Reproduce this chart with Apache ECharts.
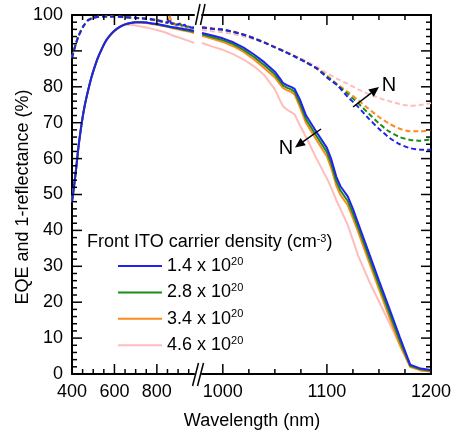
<!DOCTYPE html>
<html><head><meta charset="utf-8">
<script src="https://cdn.jsdelivr.net/npm/echarts@6/dist/echarts.min.js"></script>
<style>html,body{margin:0;padding:0;background:#fff}#c{width:456px;height:437px}</style>
</head><body><div id="c"></div>
<script>
// ---------- data ----------
const densities = ['1.4', '2.8', '3.4', '4.6'];
const colors = ['#2222ee', '#1a8c1a', '#ff8a1e', '#ffbcbc'];

// EQE (solid), short-wavelength segment
const eqeWlLeft = [400,410,420,430,440,450,460,470,480,490,500,520,540,560,580,600,625,650,675,700,725,750,775,800,825,850,875,900,925,950,975];
const eqeLeft14 = [48,52.5,57.5,63,67.5,71.5,74.8,77.5,80,82.3,84.3,87.8,90.5,92.8,94.4,95.6,96.7,97.4,97.8,98.0,98.0,97.9,97.7,97.5,97.2,96.9,96.6,96.4,96.1,95.9,95.6];
const eqeLeft28 = [48,52.5,57.5,63,67.5,71.5,74.8,77.5,80,82.3,84.3,87.8,90.5,92.8,94.4,95.6,96.7,97.4,97.8,98.0,98.0,97.9,97.6,97.4,97.1,96.8,96.5,96.2,95.9,95.6,95.3];
const eqeLeft34 = [48,52.5,57.5,63,67.5,71.5,74.8,77.5,80,82.3,84.3,87.8,90.5,92.8,94.4,95.6,96.7,97.4,97.8,97.9,97.9,97.8,97.5,97.3,97.0,96.7,96.3,96.0,95.7,95.4,95.0];
const eqeLeft46 = [47.9,52.4,57.4,62.9,67.4,71.4,74.7,77.4,79.9,82.2,84.2,87.7,90.4,92.7,94.3,95.5,96.6,97.2,97.3,97.1,96.8,96.5,96.2,95.8,95.4,94.9,94.3,93.8,93.3,92.8,92.2];

// EQE (solid), long-wavelength segment
const eqeWlRight = [980,990,1000,1010,1020,1030,1040,1050,1055,1058,1062,1066,1069,1074,1080,1090,1100,1104,1109,1113,1120,1125,1130,1140,1150,1160,1170,1180,1190,1200];
const eqeRight14 = [95.0,94.3,93.5,92.4,90.9,89.0,86.8,84.2,82.3,81.0,80.4,79.9,79.4,76.5,72.0,67.4,63.0,60.0,55.0,52.3,49.5,46.0,42.0,34.0,26.0,18.2,10.3,2.6,1.5,1.1];
const eqeRight28 = [94.6,93.8,93.0,91.9,90.3,88.3,86.0,83.4,81.5,80.3,79.7,79.2,78.6,75.4,70.9,66.3,61.8,58.7,53.7,51.1,48.2,44.7,40.8,32.8,24.8,17.0,9.2,2.3,1.3,0.9];
const eqeRight34 = [94.2,93.4,92.5,91.3,89.7,87.6,85.2,82.6,80.7,79.6,79.0,78.5,77.8,74.4,69.9,65.2,60.6,57.5,52.5,49.9,47.0,43.4,39.6,31.6,23.6,15.8,8.1,2.0,1.0,0.7];
const eqeRight46 = [92.2,91.2,90.3,89.1,87.6,85.7,83.2,79.3,76.2,74.5,73.6,72.9,72.3,69.3,66.0,60.0,54.5,52.0,48.4,46.0,41.5,37.3,33.0,26.2,20.2,14.2,8.2,2.0,1.0,0.7];

// 1-reflectance (dashed), short-wavelength segment
const reflWlLeft = [400,410,420,430,440,450,460,475,500,525,550,600,650,700,750,800,825,840,850,855,860,865,870,880,890,900,910,920,930,940,950,960,975];
const reflLeft14 = [88.0,90.3,92.3,94.0,95.3,96.5,97.4,98.5,99.2,99.5,99.6,99.6,99.4,99.2,99.0,98.6,98.2,98.0,97.9,98.5,98.9,98.0,97.6,97.8,97.3,97.4,97.6,97.0,97.3,96.8,96.9,96.5,96.6];
const reflLeft28 = [88.2,90.4,92.4,94.1,95.4,96.6,97.5,98.6,99.3,99.5,99.6,99.6,99.4,99.2,98.9,98.5,98.1,97.9,97.8,98.2,98.6,97.9,97.5,97.6,97.2,97.2,97.4,96.9,97.1,96.7,96.7,96.4,96.4];
const reflLeft34 = [88.1,90.3,92.3,94.0,95.3,96.5,97.4,98.5,99.2,99.5,99.6,99.6,99.4,99.2,99.0,98.6,98.3,98.1,98.2,99.2,99.8,98.8,97.8,97.7,97.4,97.3,97.5,97.1,97.2,96.8,96.8,96.4,96.5];
const reflLeft46 = [88.0,90.2,92.2,93.9,95.2,96.4,97.3,98.4,99.1,99.4,99.5,99.5,99.3,99.1,98.8,98.4,98.0,97.8,97.7,97.8,97.9,97.6,97.4,97.3,97.1,96.9,96.8,96.6,96.5,96.3,96.2,96.0,95.9];

// 1-reflectance (dashed), long-wavelength segment
const reflWlRight = [980,990,1000,1010,1020,1030,1040,1050,1060,1070,1080,1090,1100,1110,1120,1130,1140,1150,1160,1170,1180,1190,1200];
const reflRight14 = [96.5,96.2,95.9,95.3,94.5,93.5,92.3,91.0,89.7,88.3,86.8,85.2,82.6,80.4,77.2,74.4,71.2,68.3,65.8,64.0,62.9,62.5,62.5];
const reflRight28 = [96.5,96.2,95.9,95.3,94.5,93.5,92.3,91.0,89.7,88.3,86.8,85.1,82.9,80.5,78.0,75.4,72.6,69.8,67.5,66.0,65.2,65.0,65.4];
const reflRight34 = [96.6,96.3,96.0,95.4,94.6,93.6,92.4,91.1,89.8,88.4,86.9,85.2,83.1,80.7,78.6,76.3,73.9,71.6,69.7,68.3,67.6,67.6,68.0];
const reflRight46 = [95.8,95.5,95.2,94.7,94.0,93.2,92.3,91.1,89.8,88.5,87.2,85.6,83.8,82.2,80.8,79.3,78.0,76.9,76.0,75.2,74.7,74.9,75.5];

// axis ranges / tick spacing
const leftRange = [400, 975], rightRange = [980, 1200];
const leftMajor = {min: 400, max: 800, step: 200};
const leftMinor = {min: 400, max: 950, step: 50};
const rightMajor = {min: 1000, max: 1200, step: 100};
const rightMinor = {min: 1000, max: 1200, step: 25};
const yMin = 0, yMax = 100, yStep = 10, yMinorStep = 2;

// ---------- chart ----------
const FONT = 'Liberation Sans, Arial, sans-serif';
const black = '#000';
const chart = echarts.init(document.getElementById('c'), null, {renderer: 'canvas'});

const TOP = 15, H = 359;
const segL = {px0: 72, width: 122, range: leftRange};
const segR = {px0: 202, width: 229, range: rightRange};

const eqeLeft = [eqeLeft14, eqeLeft28, eqeLeft34, eqeLeft46];
const eqeRight = [eqeRight14, eqeRight28, eqeRight34, eqeRight46];
const reflLeft = [reflLeft14, reflLeft28, reflLeft34, reflLeft46];
const reflRight = [reflRight14, reflRight28, reflRight34, reflRight46];

const grids = [], xAxes = [], yAxes = [];
function dataGrid(seg, yPos, yLabels) {
  grids.push({left: seg.px0, top: TOP, width: seg.width, height: H});
  const gi = grids.length - 1;
  xAxes.push({type: 'value', gridIndex: gi, position: 'bottom', min: seg.range[0], max: seg.range[1],
    axisLine: {show: true, onZero: false, lineStyle: {color: black, width: 2}},
    axisTick: {show: false}, axisLabel: {show: false}, splitLine: {show: false}});
  yAxes.push({type: 'value', gridIndex: gi, position: yPos, min: yMin, max: yMax, interval: yStep,
    axisLine: {show: true, onZero: false, lineStyle: {color: black, width: 2}},
    axisTick: {show: false},
    axisLabel: yLabels ? {show: true, color: black, fontSize: 18, fontFamily: FONT, margin: 9} : {show: false},
    splitLine: {show: false}});
  return gi;
}
function helperGrid(seg, t, pos, showLine, labels) {
  const k = seg.width / (seg.range[1] - seg.range[0]);
  grids.push({left: seg.px0 + (t.min - seg.range[0]) * k, top: TOP, width: (t.max - t.min) * k, height: H});
  const gi = grids.length - 1;
  xAxes.push({type: 'value', gridIndex: gi, position: pos, min: t.min, max: t.max, interval: t.step,
    axisLine: {show: showLine, onZero: false, lineStyle: {color: black, width: 2}},
    axisTick: {show: false},
    axisLabel: labels ? {show: true, color: black, fontSize: 18, fontFamily: FONT, margin: 9, formatter: v => String(v)} : {show: false},
    splitLine: {show: false}});
  yAxes.push({type: 'value', gridIndex: gi, show: false, min: yMin, max: yMax});
}
const gL = dataGrid(segL, 'left', true);
const gR = dataGrid(segR, 'right', false);
helperGrid(segL, {min: leftRange[0], max: leftRange[1], step: 575}, 'top', true, false);
helperGrid(segR, {min: rightRange[0], max: rightRange[1], step: 220}, 'top', true, false);
helperGrid(segL, leftMajor, 'bottom', false, true);
helperGrid(segR, rightMajor, 'bottom', false, true);

function pts(wl, v) { return wl.map((w, i) => [w, v[i]]); }
function line(name, wl, v, gi, color, dashed, smooth, z) {
  return {
    type: 'line', name: name, xAxisIndex: gi, yAxisIndex: gi,
    data: pts(wl, v), symbol: 'none', showSymbol: false, smooth: smooth,
    lineStyle: {color: color, width: 2, type: dashed ? [5, 3] : 'solid'},
    itemStyle: {color: color}, z: z, animation: false
  };
}
const series = [];
for (let k = 3; k >= 0; k--) {
  const z = 2 + (3 - k);
  series.push(line('R' + densities[k], reflWlLeft, reflLeft[k], gL, colors[k], true, 0.2, z));
  series.push(line('R' + densities[k] + 'b', reflWlRight, reflRight[k], gR, colors[k], true, 0.2, z));
  series.push(line(densities[k], eqeWlLeft, eqeLeft[k], gL, colors[k], false, 0.3, z + 4));
  series.push(line(densities[k], eqeWlRight, eqeRight[k], gR, colors[k], false, false, z + 4));
}

// ---------- axis ticks as custom series (positioned by the axes' own scales) ----------
function tickSeries(name, gi, data, dx, dy) {
  return {
    type: 'custom', name: name, xAxisIndex: gi, yAxisIndex: gi, data: data,
    silent: true, clip: false, z: 60, animation: false,
    renderItem: function (params, api) {
      const p = api.coord([api.value(0), api.value(1)]);
      const len = api.value(2) ? 10 : 5;
      return {type: 'line', shape: {x1: p[0], y1: p[1], x2: p[0] + dx * len, y2: p[1] + dy * len},
        style: {stroke: black, lineWidth: 1.5}};
    }
  };
}
const yTicksL = [], yTicksR = [];
for (let v = yMin; v <= yMax; v += yMinorStep) {
  const major = v % yStep === 0 ? 1 : 0;
  yTicksL.push([leftRange[0], v, major]);
  yTicksR.push([rightRange[1], v, major]);
}
function xTickData(t, major, yv) {
  const out = [];
  for (let v = t.min; v <= t.max; v += t.step) out.push([v, yv, (v - major.min) % major.step === 0 ? 1 : 0]);
  return out;
}
series.push(tickSeries('tyL', gL, yTicksL, 1, 0));
series.push(tickSeries('tyR', gR, yTicksR, -1, 0));
series.push(tickSeries('txLb', gL, xTickData(leftMinor, leftMajor, yMin), 0, -1));
series.push(tickSeries('txLt', gL, xTickData(leftMinor, leftMajor, yMax), 0, 1));
series.push(tickSeries('txRb', gR, xTickData(rightMinor, rightMajor, yMin), 0, -1));
series.push(tickSeries('txRt', gR, xTickData(rightMinor, rightMajor, yMax), 0, 1));

// ---------- annotations ----------
const g = [];
g.push({type: 'text', x: 252, y: 421, z: 100,
  style: {text: 'Wavelength (nm)', font: '18px ' + FONT, fill: black, textAlign: 'center', textVerticalAlign: 'middle'}});
g.push({type: 'text', x: 23, y: 197, rotation: Math.PI / 2, z: 100,
  style: {text: 'EQE and 1-reflectance (%)', font: '18px ' + FONT, fill: black, textAlign: 'center', textVerticalAlign: 'middle'}});
g.push({type: 'text', x: 87, y: 242, z: 100,
  style: {text: 'Front ITO carrier density (cm{s|-3})', font: '18px ' + FONT, fill: black, textAlign: 'left', textVerticalAlign: 'middle',
    rich: {s: {fontSize: 11, lineHeight: 10, verticalAlign: 'top', fontFamily: FONT, fill: black}}}});
const brk = [[195.5, 25, 200, 4], [200.5, 25, 205, 4], [192.5, 386, 198.5, 363], [197.5, 386, 203.5, 363]];
brk.forEach(b => g.push({type: 'line', z: 100, shape: {x1: b[0], y1: b[1], x2: b[2], y2: b[3]}, style: {stroke: black, lineWidth: 1.5}}));
function arrow(tx, ty, hx, hy) {
  const dx = hx - tx, dy = hy - ty, L = Math.hypot(dx, dy), ux = dx / L, uy = dy / L;
  const bx = hx - 10 * ux, by = hy - 10 * uy, px = -uy, py = ux;
  g.push({type: 'line', z: 100, shape: {x1: tx, y1: ty, x2: bx, y2: by}, style: {stroke: black, lineWidth: 1.5}});
  g.push({type: 'polygon', z: 100, shape: {points: [[hx, hy], [bx + 4.5 * px, by + 4.5 * py], [bx - 4.5 * px, by - 4.5 * py]]}, style: {fill: black}});
}
arrow(353, 107, 379, 87);
arrow(321, 129, 295, 147.5);
g.push({type: 'text', x: 389, y: 85, z: 100, style: {text: 'N', font: '20px ' + FONT, fill: black, textAlign: 'center', textVerticalAlign: 'middle'}});
g.push({type: 'text', x: 286, y: 148, z: 100, style: {text: 'N', font: '20px ' + FONT, fill: black, textAlign: 'center', textVerticalAlign: 'middle'}});

const option = {
  backgroundColor: '#fff',
  animation: false,
  grid: grids,
  xAxis: xAxes,
  yAxis: yAxes,
  legend: {
    data: densities, orient: 'vertical', left: 118, top: 256, padding: 0,
    icon: 'rect', itemWidth: 44, itemHeight: 2, itemGap: 7.4, selectedMode: false,
    formatter: n => '{t|' + n + ' x 10}{s|20}',
    textStyle: {
      color: black, fontFamily: FONT,
      rich: {
        t: {fontSize: 18, lineHeight: 20, fontFamily: FONT, color: black},
        s: {fontSize: 11, lineHeight: 10, verticalAlign: 'top', fontFamily: FONT, color: black}
      }
    }
  },
  graphic: g,
  series: series
};
chart.setOption(option);
</script>
</body></html>
